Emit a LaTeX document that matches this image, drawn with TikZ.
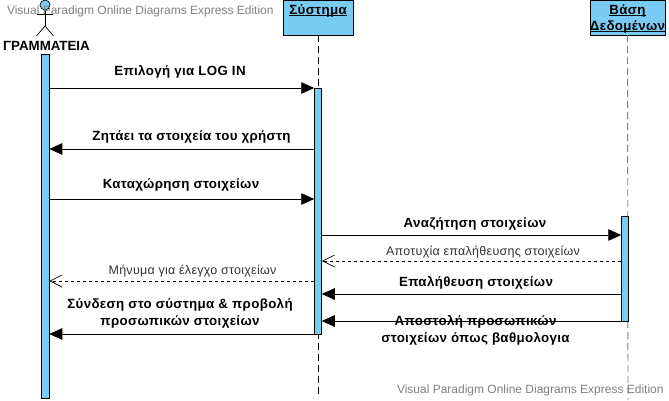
\documentclass[tikz,border=0pt]{standalone}
\usepackage{fontspec}
\setmainfont{Liberation Sans}
\newfontfamily\boldlab[LetterSpace=2.6]{Liberation Sans Bold}
\newfontfamily\plainlab[LetterSpace=2.2]{Liberation Sans}
\usetikzlibrary{arrows.meta}
\definecolor{barblue}{HTML}{7ACBF3}
\newcommand{\objul}[1]{\leavevmode\setbox0=\hbox{#1}\rlap{\rule[-1.6pt]{\wd0}{0.9pt}}\box0 }
\tikzset{
  x=1pt,y=-1pt,
  every node/.style={inner sep=0pt,outer sep=0pt},
  objbox/.style={draw=black,fill=barblue,line width=0.9pt,minimum width=#1,minimum height=35pt},
  objname/.style={font=\boldlab\fontsize{13.33}{16}\selectfont,align=center},
  barbox/.style={draw=black,fill=barblue,line width=0.8pt,minimum width=7.5pt,minimum height=#1},
  lifeline/.style={line width=0.9pt,dash pattern=on 7pt off 4pt},
  msgline/.style={line width=0.9pt,-{Triangle[length=13pt,width=11.5pt]}},
  retline/.style={line width=0.8pt,dash pattern=on 3.5pt off 2.5pt,-{Straight Barb[length=12pt,width=12pt,line width=0.7pt]}},
  lab/.style={font=\boldlab\fontsize{13.33}{17.5}\selectfont,align=center,text=black},
  smalllab/.style={font=\plainlab\fontsize{12.5}{14}\selectfont,text=black!80},
  wmark/.style={font=\fontsize{12}{14}\selectfont,text=black!50,anchor=west},
  actline/.style={line width=0.7pt}
}
\begin{document}
\begin{tikzpicture}
\useasboundingbox (0,0) rectangle (669,401);
\fill[white] (0,0) rectangle (669,401);
% objects
\node[objbox=70pt] (sys) at (318,17.5) {};
\node[objbox=75pt] (db) at (627.5,17.5) {};
\node[objname] (sysname) at (318,10.5) {\objul{Σύστημα}};
\node[objname] (dbname) at (627.5,18.5) {\objul{Βάση}\\\objul{Δεδομένων}};
% lifelines
\coordinate (sysend) at (318,397);
\coordinate (dbend) at (628,400);
\draw[lifeline] (sys.south) -- (sysend);
\draw[lifeline,draw=black!50] (db.south) -- (dbend);
% actor
\node[circle,draw=black,fill=barblue,line width=0.7pt,minimum size=10pt] (head) at (45,5) {};
\coordinate (hip) at (45,26);
\coordinate (armL) at (37,14);
\coordinate (armR) at (53,14);
\coordinate (legL) at (36.5,36);
\coordinate (legR) at (53.5,36);
\draw[actline] (head.south) -- (hip);
\draw[actline] (armL) -- (armR);
\draw[actline] (legL) -- (hip) -- (legR);
\node[font=\bfseries\fontsize{13.33}{16}\selectfont] (actname) at (46.5,46) {ΓΡΑΜΜΑΤΕΙΑ};
% activation bars
\node[barbox=344pt] (barL) at (45.5,226) {};
\node[barbox=246pt] (barM) at (318,211) {};
\node[barbox=105pt] (barR) at (625,268.5) {};
% message rows
\coordinate (m1) at (0,88);
\coordinate (m2) at (0,149);
\coordinate (m3) at (0,199);
\coordinate (m4) at (0,235);
\coordinate (m5) at (0,261);
\coordinate (m6) at (0,281);
\coordinate (m7) at (0,294);
\coordinate (m8) at (0,321);
\coordinate (m9) at (0,334);
\draw[msgline] (barL.east |- m1) -- (barM.west |- m1);
\draw[msgline] (barM.west |- m2) -- (barL.east |- m2);
\draw[msgline] (barL.east |- m3) -- (barM.west |- m3);
\draw[msgline] (barM.east |- m4) -- (barR.west |- m4);
\draw[retline] (barR.west |- m5) -- (barM.east |- m5);
\draw[retline] (barM.west |- m6) -- (barL.east |- m6);
\draw[msgline] (barR.west |- m7) -- (barM.east |- m7);
\draw[msgline] (barR.west |- m8) -- (barM.east |- m8);
\draw[msgline] (barM.west |- m9) -- (barL.east |- m9);
% labels
\node[lab] (l1) at (180,71.5) {Επιλογή για LOG IN};
\node[lab] (l2) at (191.5,136.5) {Ζητάει τα στοιχεία του χρήστη};
\node[lab] (l3) at (181,184.5) {Καταχώρηση στοιχείων};
\node[lab] (l4) at (475,223.5) {Αναζήτηση στοιχείων};
\node[smalllab] (l5) at (483,252.5) {Αποτυχία επαλήθευσης στοιχείων};
\node[smalllab] (l6) at (192.5,271) {Μήνυμα για έλεγχο στοιχείων};
\node[lab] (l7) at (476,282.5) {Επαλήθευση στοιχείων};
\node[lab] (l8) at (475.5,330.5) {Αποστολή προσωπικών\\στοιχείων όπως βαθμολογια};
\node[lab] (l9) at (180,313.5) {Σύνδεση στο σύστημα \& προβολή\\προσωπικών στοιχείων};
% watermarks
\node[wmark] (w1) at (7,11.5) {Visual Paradigm Online Diagrams Express Edition};
\node[wmark] (w2) at (397,390.5) {Visual Paradigm Online Diagrams Express Edition};
\end{tikzpicture}
\end{document}
